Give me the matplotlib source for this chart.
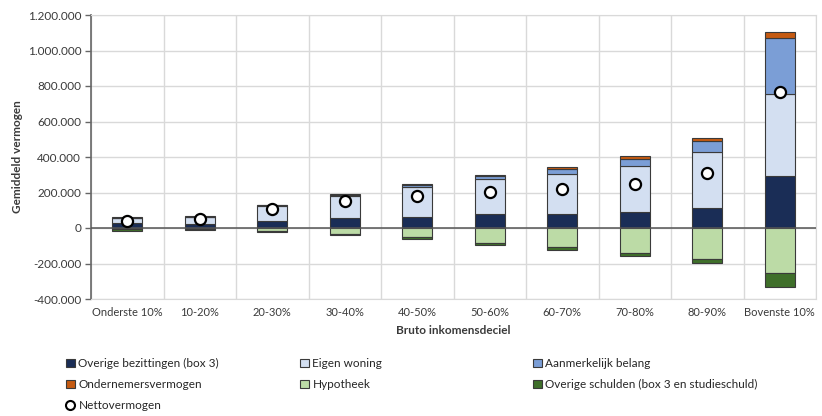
import matplotlib
matplotlib.use("Agg")
import matplotlib.pyplot as plt
import numpy as np
from matplotlib.patches import Patch
from matplotlib.lines import Line2D
from matplotlib.ticker import FuncFormatter, MultipleLocator

plt.rcParams["font.family"] = ["Lato", "DejaVu Sans"]

# data (in euro)
decielen = ["Onderste 10%", "10-20%", "20-30%", "30-40%", "40-50%",
            "50-60%", "60-70%", "70-80%", "80-90%", "Bovenste 10%"]
overige_bezittingen = [30000, 25000, 40000, 55000, 64000, 77000, 80000, 90000, 112000, 295000]
eigen_woning = [25000, 37000, 85000, 125000, 169000, 197000, 226000, 262000, 318000, 461000]
aanmerkelijk_belang = [3000, 2000, 3000, 8000, 10000, 17000, 25000, 38000, 60000, 312000]
ondernemersvermogen = [2000, 1000, 2000, 4000, 4000, 7000, 10000, 14000, 15000, 35000]
hypotheek = [-8000, -6000, -17000, -35000, -52000, -82000, -109000, -139000, -175000, -255000]
overige_schulden = [-10000, -8000, -8000, -6000, -10000, -12000, -14000, -20000, -22000, -80000]
nettovermogen = [40000, 50000, 105000, 152000, 182000, 205000, 220000, 247000, 308000, 768000]

c_ob = "#1a2d56"
c_ew = "#d3dff1"
c_ab = "#7b9ed6"
c_on = "#c55a11"
c_hy = "#bcdba6"
c_os = "#3f6f2a"
edge = "#3a3a3a"
txt = "#3a3a3a"

fig = plt.figure(figsize=(8.22, 4.16), dpi=100)
ax = fig.add_axes([91 / 822, 1 - 299 / 416, 725 / 822, 284 / 416])

x = np.arange(len(decielen))
w = 0.41
kw = dict(width=w, edgecolor=edge, linewidth=0.8, zorder=3)

pos = np.zeros(len(x))
for vals, col in [(overige_bezittingen, c_ob), (eigen_woning, c_ew),
                  (aanmerkelijk_belang, c_ab), (ondernemersvermogen, c_on)]:
    ax.bar(x, vals, bottom=pos, color=col, **kw)
    pos += np.array(vals)

neg = np.zeros(len(x))
for vals, col in [(hypotheek, c_hy), (overige_schulden, c_os)]:
    ax.bar(x, vals, bottom=neg, color=col, **kw)
    neg += np.array(vals)

ax.plot(x, nettovermogen, linestyle="none", marker="o", markersize=8,
        markerfacecolor="white", markeredgecolor="black", markeredgewidth=1.6, zorder=5)

ax.axhline(0, color="#555555", linewidth=1.1, zorder=4)

ax.set_xlim(-0.5, len(x) - 0.5)
ax.set_ylim(-400000, 1200000)
ax.yaxis.set_major_locator(MultipleLocator(200000))
ax.yaxis.set_major_formatter(FuncFormatter(lambda v, p: f"{int(v):,}".replace(",", ".")))

# grid: horizontal at ticks, vertical between categories
ax.set_xticks(x)
ax.set_xticklabels(decielen)
ax.set_xticks(np.arange(-0.5, len(x)), minor=True)
ax.grid(axis="y", which="major", color="#d9d9d9", linewidth=1.0, zorder=0)
ax.grid(axis="x", which="minor", color="#d9d9d9", linewidth=1.0, zorder=0)
ax.tick_params(axis="x", which="both", length=0, labelsize=8, colors=txt, pad=6)
ax.tick_params(axis="y", length=4, width=1, color="#666666", labelsize=8.5, labelcolor=txt, pad=3)

for s in ["top", "right", "bottom"]:
    ax.spines[s].set_color("#d9d9d9")
ax.spines["left"].set_color("#666666")
ax.spines["left"].set_linewidth(1.2)

ax.set_ylabel("Gemiddeld vermogen", fontsize=8.5, fontweight="bold", color=txt, labelpad=3)
ax.set_xlabel("Bruto inkomensdeciel", fontsize=8.5, fontweight="bold", color=txt, labelpad=5)

# legend in three columns
def sq(col):
    return Patch(facecolor=col, edgecolor=edge, linewidth=0.8)

netto = Line2D([], [], linestyle="none", marker="o", markersize=6.5,
               markerfacecolor="white", markeredgecolor="black", markeredgewidth=1.5)

kolommen = [
    (66 / 822, [sq(c_ob), sq(c_on), netto],
     ["Overige bezittingen (box 3)", "Ondernemersvermogen", "Nettovermogen"]),
    (300 / 822, [sq(c_ew), sq(c_hy)], ["Eigen woning", "Hypotheek"]),
    (533 / 822, [sq(c_ab), sq(c_os)],
     ["Aanmerkelijk belang", "Overige schulden (box 3 en studieschuld)"]),
]
for xpos, hs, ls in kolommen:
    leg = fig.legend(hs, ls, loc="upper left", bbox_to_anchor=(xpos, 1 - 358 / 416),
                     frameon=False, fontsize=8.5, handlelength=0.75, handleheight=0.75,
                     handletextpad=0.3, labelspacing=0.85, borderpad=0, borderaxespad=0)
    for t in leg.get_texts():
        t.set_color("#262626")

fig.savefig("out.png", dpi=100)
